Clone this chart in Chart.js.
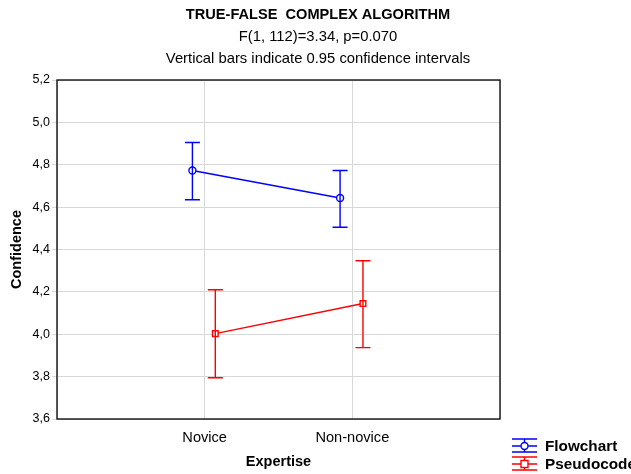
<!DOCTYPE html>
<html>
<head>
<meta charset="utf-8">
<script src="https://cdn.jsdelivr.net/npm/chart.js@4/dist/chart.umd.min.js"></script>
<style>
  html, body { margin: 0; padding: 0; background: #fff; }
  #wrap { width: 631px; height: 474px; }
</style>
</head>
<body>
<div id="wrap"><canvas id="myChart" width="631" height="474"></canvas></div>
<script>
'use strict';

// *******Data*******
let categories = ['Novice', 'Non-novice'];
let seriesNames = ['Flowchart', 'Pseudocode'];
let seriesColors = ['#0000ff', '#ff0000'];

let flowchartMean = [4.773, 4.643];
let flowchartLow = [4.635, 4.505];
let flowchartHigh = [4.905, 4.773];

let pseudocodeMean = [4.003, 4.145];
let pseudocodeLow = [3.795, 3.937];
let pseudocodeHigh = [4.21, 4.347];

let yTicks = [3.6, 3.8, 4.0, 4.2, 4.4, 4.6, 4.8, 5.0, 5.2];

let titleLines = [
  'TRUE-FALSE  COMPLEX ALGORITHM',
  'F(1, 112)=3.34, p=0.070',
  'Vertical bars indicate 0.95 confidence intervals'
];

// small horizontal shift so the two series don't overlap
let offsets = [-0.083, 0.072];

const FONT = '"Liberation Sans", Arial, sans-serif';

function makePoints(means, lows, highs, shift){
  let pts = [];
  for(let i = 0; i < means.length; i++){
    pts.push({x: i + 1 + shift, y: means[i], lo: lows[i], hi: highs[i]});
  }
  return pts;
}

let allSeries = [
  makePoints(flowchartMean, flowchartLow, flowchartHigh, offsets[0]),
  makePoints(pseudocodeMean, pseudocodeLow, pseudocodeHigh, offsets[1])
];

// ******** plugins *******
const errorBars = {
  id: 'errorBars',
  afterDatasetsDraw(chart){
    const c = chart.ctx;
    const xs = chart.scales.x, ys = chart.scales.y;
    c.save();
    c.lineWidth = 1.4;
    chart.data.datasets.forEach((ds) => {
      c.strokeStyle = ds.borderColor;
      ds.data.forEach((p) => {
        let px = xs.getPixelForValue(p.x);
        let top = ys.getPixelForValue(p.hi);
        let bot = ys.getPixelForValue(p.lo);
        c.beginPath();
        c.moveTo(px, top); c.lineTo(px, bot);
        c.moveTo(px - 7.5, top); c.lineTo(px + 7.5, top);
        c.moveTo(px - 7.5, bot); c.lineTo(px + 7.5, bot);
        c.stroke();
      });
    });
    c.restore();
  }
};

const frameAndText = {
  id: 'frameAndText',
  afterDraw(chart){
    const c = chart.ctx;
    const a = chart.chartArea;
    c.save();
    // plot frame
    c.strokeStyle = '#000';
    c.lineWidth = 1.3;
    c.strokeRect(a.left, a.top, a.right - a.left, a.bottom - a.top);

    // titles
    c.fillStyle = '#000';
    c.textAlign = 'center';
    c.textBaseline = 'middle';
    c.font = 'bold 14.6px ' + FONT;
    c.fillText(titleLines[0], 318, 15);
    c.font = '14.8px ' + FONT;
    c.fillText(titleLines[1], 318, 37);
    c.fillText(titleLines[2], 318, 59);

    // legend
    let ly = [446, 464];
    for(let i = 0; i < seriesNames.length; i++){
      let y = ly[i];
      c.strokeStyle = seriesColors[i];
      c.lineWidth = 1.4;
      c.beginPath();
      c.moveTo(512, y - 7); c.lineTo(537, y - 7);
      c.moveTo(512, y); c.lineTo(537, y);
      c.moveTo(512, y + 6); c.lineTo(537, y + 6);
      c.moveTo(524.5, y - 7); c.lineTo(524.5, y + 6);
      c.stroke();
      c.fillStyle = '#fff';
      c.beginPath();
      if(i === 0){
        c.arc(524.5, y, 3.5, 0, Math.PI * 2);
      } else {
        c.rect(521, y - 3.5, 7, 7);
      }
      c.fill();
      c.stroke();
      c.fillStyle = '#000';
      c.textAlign = 'left';
      c.font = 'bold 15.3px ' + FONT;
      c.fillText(seriesNames[i], 545, y + 1);
    }
    c.restore();
  }
};

// ******** chart *******
const ctx = document.getElementById('myChart').getContext('2d');

let datasets = [];
for(let i = 0; i < allSeries.length; i++){
  datasets.push({
    label: seriesNames[i],
    data: allSeries[i],
    borderColor: seriesColors[i],
    backgroundColor: '#ffffff',
    borderWidth: 1.4,
    pointStyle: i === 0 ? 'circle' : 'rect',
    pointRadius: i === 0 ? 3.5 : 4,
    pointBorderWidth: 1.4,
    pointBackgroundColor: '#ffffff',
    tension: 0
  });
}

const myChart = new Chart(ctx, {
  type: 'line',
  data: { datasets: datasets },
  plugins: [errorBars, frameAndText],
  options: {
    responsive: false,
    animation: false,
    layout: { padding: { top: 80, right: 131, bottom: 0, left: 0 } },
    plugins: {
      legend: { display: false },
      tooltip: { enabled: false },
      title: { display: false }
    },
    scales: {
      x: {
        type: 'linear',
        min: 0,
        max: categories.length + 1,
        afterBuildTicks(scale){
          scale.ticks = [0, 1, 2, 3].map((v) => ({value: v}));
        },
        afterFit(scale){ scale.height = 55; },
        ticks: {
          autoSkip: false,
          maxRotation: 0,
          padding: 10,
          color: '#000',
          font: { family: FONT, size: 14.6 },
          callback: (v) => categories[v - 1] || ''
        },
        grid: { color: '#d8d8d8', lineWidth: 1, drawTicks: false },
        border: { display: false },
        title: {
          display: true,
          text: 'Expertise',
          color: '#000',
          padding: { top: 6, bottom: 3 },
          font: { family: FONT, size: 14.5, weight: 'bold' }
        }
      },
      y: {
        min: yTicks[0],
        max: yTicks[yTicks.length - 1],
        afterBuildTicks(scale){
          scale.ticks = yTicks.map((v) => ({value: v}));
        },
        afterFit(scale){ scale.width = 57; },
        ticks: {
          padding: 2,
          color: '#000',
          font: { family: FONT, size: 12.5 },
          callback: (v) => Number(v).toFixed(1).replace('.', ',')
        },
        grid: { color: '#d8d8d8', lineWidth: 1, tickLength: 5, tickColor: '#d8d8d8' },
        border: { display: false },
        title: {
          display: true,
          text: 'Confidence',
          color: '#000',
          padding: { top: 8, bottom: 2 },
          font: { family: FONT, size: 14.5, weight: 'bold' }
        }
      }
    }
  }
});
</script>
</body>
</html>
